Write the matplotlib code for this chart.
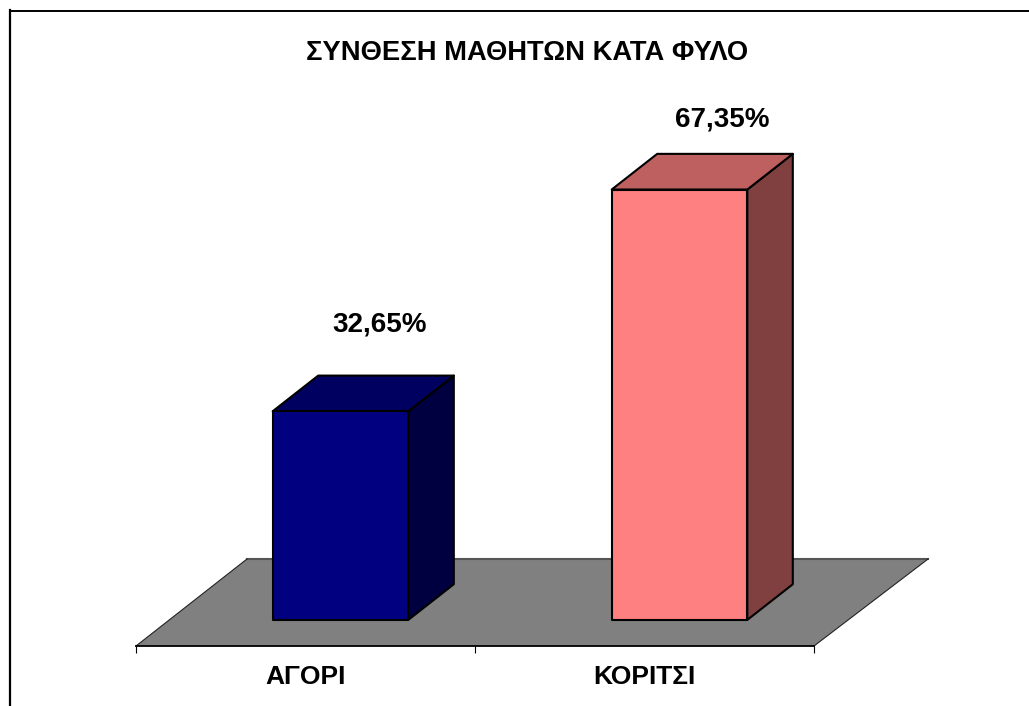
import matplotlib
matplotlib.use('Agg')
import matplotlib.pyplot as plt
from matplotlib.lines import Line2D
from matplotlib.patches import Polygon

plt.rcParams['font.family'] = ['Liberation Sans', 'DejaVu Sans']

# data
categories = ['ΑΓΟΡΙ', 'ΚΟΡΙΤΣΙ']
values = [32.65, 67.35]
value_labels = ['32,65%', '67,35%']
title = 'ΣΥΝΘΕΣΗ ΜΑΘΗΤΩΝ ΚΑΤΑ ΦΥΛΟ'

front_colors = ['#000080', '#FF8080']
top_colors = ['#000060', '#BF6060']
side_colors = ['#000040', '#804040']

W, H = 1029, 706
fig = plt.figure(figsize=(W / 100, H / 100), dpi=100)
fig.patch.set_facecolor('white')

# axes runs from the floor's front edge up to the frame
ax = fig.add_axes([136 / W, 60 / H, 678 / W, 636 / H])
ax.set_xlim(-0.5, 1.5)
ax.set_ylim(0, 636 / 6.39)
ax.patch.set_visible(False)
for s in ['top', 'left', 'right']:
    ax.spines[s].set_visible(False)
ax.spines['bottom'].set_linewidth(1.3)
ax.yaxis.set_visible(False)

# oblique projection of the depth axis
depth_x = 111 / 339
depth_y = 87 / 6.39
bar_width = 0.40
bar_depth = 0.41
bar_front = 0.30
label_dx = [0.121, 0.130]
label_dy = [13.6, 11.0]


def project(x, y, d):
    return (x + d * depth_x, y + d * depth_y)


# floor, its back right corner sits a little further out
floor = [project(-0.5, 0, 0), project(1.5, 0, 0), project(1.509, 0, 1), project(-0.5, 0, 1)]
ax.add_patch(Polygon(floor, closed=True, facecolor='#808080', edgecolor='none', zorder=1, clip_on=False))
ax.plot([floor[3][0], floor[2][0]], [floor[3][1], floor[2][1]], color='#555555', lw=1.5, zorder=1.5, clip_on=False)
ax.plot([floor[0][0], floor[3][0]], [floor[0][1], floor[3][1]], color='#222222', lw=0.8, zorder=1.5, clip_on=False)
ax.plot([floor[1][0], floor[2][0]], [floor[1][1], floor[2][1]], color='#222222', lw=0.8, zorder=1.5, clip_on=False)

# bars
for i, v in enumerate(values):
    x0 = i - bar_width / 2 + 0.005
    x1 = x0 + bar_width
    d0 = bar_front
    d1 = bar_front + bar_depth
    base = 0
    front = [project(x0, base, d0), project(x1, base, d0), project(x1, v, d0), project(x0, v, d0)]
    side = [project(x1, base, d0), project(x1, base, d1), project(x1, v, d1), project(x1, v, d0)]
    top = [project(x0, v, d0), project(x1, v, d0), project(x1, v, d1), project(x0, v, d1)]
    for pts, c in [(side, side_colors[i]), (top, top_colors[i]), (front, front_colors[i])]:
        ax.add_patch(Polygon(pts, closed=True, facecolor=c, edgecolor='black', lw=1.5,
                             joinstyle='round', zorder=3, clip_on=False))
    lx, ly = project(i, v, d0)
    ax.text(lx + label_dx[i], ly + label_dy[i], value_labels[i], ha='center', va='center',
            fontsize=20, fontweight='bold', color='black', zorder=4)

# ticks at the category edges, names in between
ax.set_xticks([-0.5, 0.5, 1.5])
ax.set_xticklabels([])
ax.tick_params(axis='x', which='major', length=5, width=0.8, direction='out')
ax.set_xticks([0, 1], minor=True)
ax.set_xticklabels(categories, minor=True, fontsize=19, fontweight='bold')
ax.tick_params(axis='x', which='minor', length=0, pad=13.5)

fig.text(527 / W, 1 - 52.5 / H, title, ha='center', va='center',
         fontsize=19.75, fontweight='bold', color='black')

# frame: top and left only reach the picture edges
fig.add_artist(Line2D([9.5 / W, 1], [1 - 10.5 / H, 1 - 10.5 / H], color='black', lw=1.4))
fig.add_artist(Line2D([9.5 / W, 9.5 / W], [0, 1 - 10 / H], color='black', lw=1.6))

fig.savefig('out.png', dpi=100)
